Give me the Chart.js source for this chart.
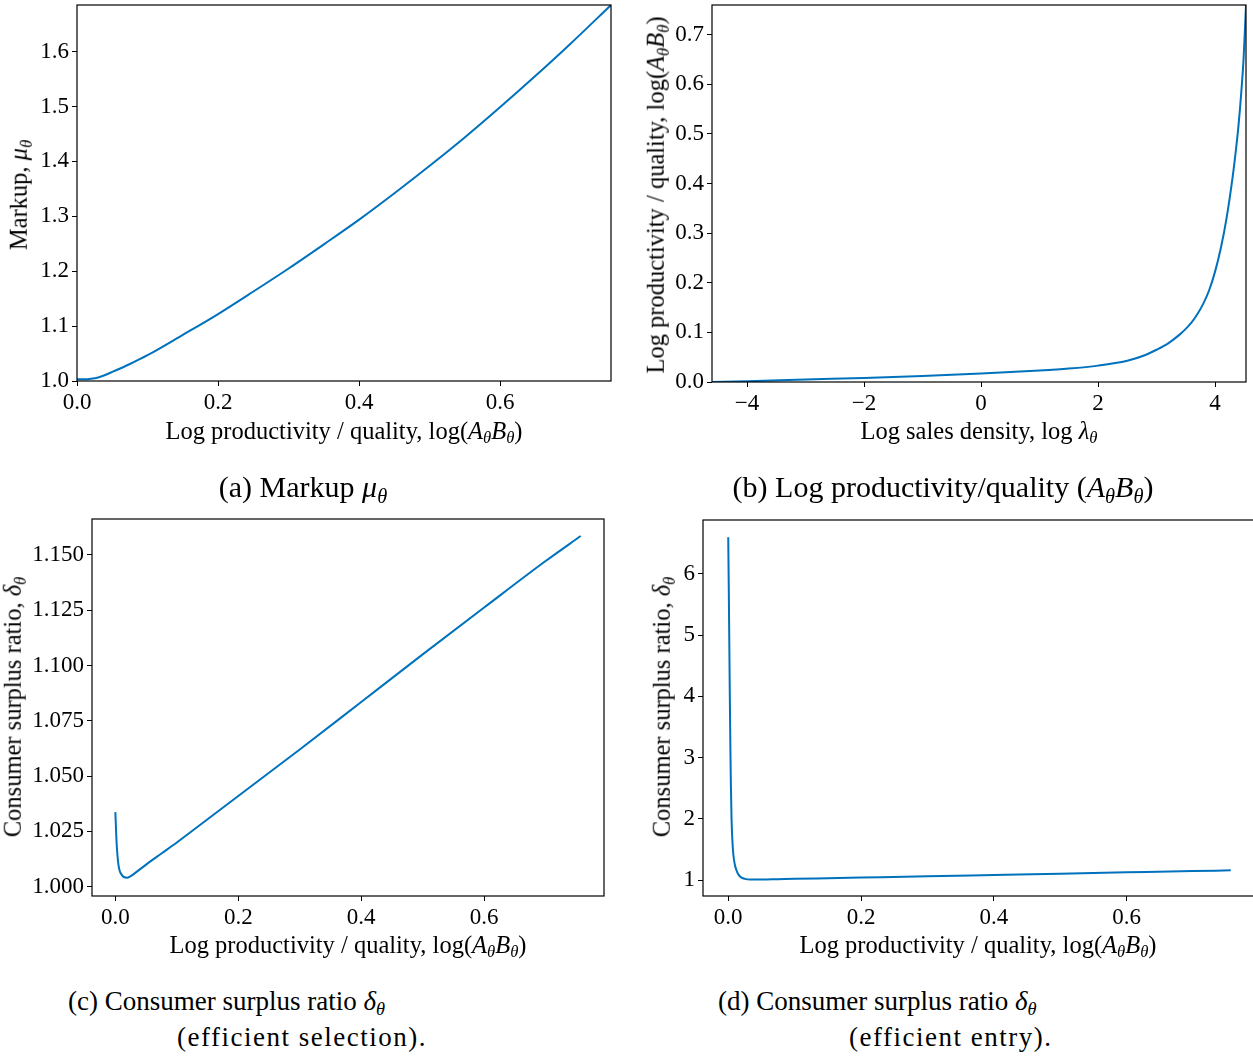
<!DOCTYPE html>
<html lang="en">
<head>
<meta charset="UTF-8">
<title>Markup and consumer surplus ratio</title>
<script src="https://cdn.jsdelivr.net/npm/chart.js"></script>
<style>
  body {
    margin: 0;
    width: 1253px;
    height: 1057px;
    position: relative;
    overflow: hidden;
    background: #fff;
    font-family: 'Liberation Serif', serif;
    color: #000;
  }
  canvas { position: absolute; }
  .t { position: absolute; white-space: nowrap; font-size: 24.5px; line-height: 1; }
  .rot { transform: translate(-50%, -50%) rotate(-90deg); }
  .hor { transform: translate(-50%, -50%); }
  .cap { position: absolute; white-space: nowrap; font-size: 27px; line-height: 1; transform: translateY(-50%); }
  .capc { position: absolute; white-space: nowrap; font-size: 30px; line-height: 1; transform: translate(-50%, -50%); }
  sub { font-size: 0.68em; vertical-align: -0.28em; line-height: 0; }
</style>
</head>
<body>
<canvas id="chartA" width="620" height="420" style="left:0;top:0"></canvas>
<canvas id="chartB" width="623" height="420" style="left:630px;top:0"></canvas>
<canvas id="chartC" width="620" height="935" style="left:0;top:0"></canvas>
<canvas id="chartD" width="630" height="935" style="left:630px;top:0"></canvas>

<!-- axis titles -->
<div class="t hor" style="left:344px;top:431px">Log productivity / quality, log(<i>A</i><sub><i>θ</i></sub><i>B</i><sub><i>θ</i></sub>)</div>
<div class="t rot" style="left:19px;top:195px">Markup, <i>μ</i><sub><i>θ</i></sub></div>
<div class="t hor" style="left:979px;top:431px">Log sales density, log <i>λ</i><sub><i>θ</i></sub></div>
<div class="t rot" style="left:656px;top:195px">Log productivity / quality, log(<i>A</i><sub><i>θ</i></sub><i>B</i><sub><i>θ</i></sub>)</div>
<div class="t hor" style="left:348px;top:945px">Log productivity / quality, log(<i>A</i><sub><i>θ</i></sub><i>B</i><sub><i>θ</i></sub>)</div>
<div class="t rot" style="left:13px;top:707px">Consumer surplus ratio, <i>δ</i><sub><i>θ</i></sub></div>
<div class="t hor" style="left:978px;top:945px">Log productivity / quality, log(<i>A</i><sub><i>θ</i></sub><i>B</i><sub><i>θ</i></sub>)</div>
<div class="t rot" style="left:662px;top:707px">Consumer surplus ratio, <i>δ</i><sub><i>θ</i></sub></div>

<!-- captions -->
<div class="capc" style="left:303px;top:487px">(a) Markup <i>μ</i><sub><i>θ</i></sub></div>
<div class="capc" style="left:943px;top:487px">(b) Log productivity/quality (<i>A</i><sub><i>θ</i></sub><i>B</i><sub><i>θ</i></sub>)</div>
<div class="cap" style="left:68px;top:1001px">(c) Consumer surplus ratio <i>δ</i><sub><i>θ</i></sub></div>
<div class="cap" style="left:177px;top:1037px;letter-spacing:1.5px">(efficient selection).</div>
<div class="cap" style="left:718px;top:1001px">(d) Consumer surplus ratio <i>δ</i><sub><i>θ</i></sub></div>
<div class="cap" style="left:849px;top:1037px;letter-spacing:1.5px">(efficient entry).</div>

<script>
// (a) markup vs log productivity/quality
const aX = [0, 0.01, 0.02, 0.03, 0.04, 0.05, 0.075, 0.1, 0.15, 0.2, 0.25, 0.3, 0.35, 0.4, 0.45, 0.5, 0.55, 0.6, 0.65, 0.7, 0.757];
const aY = [1.003, 1.003, 1.004, 1.0065, 1.011, 1.0165, 1.031, 1.047, 1.084, 1.122, 1.163, 1.205, 1.249, 1.294, 1.342, 1.392, 1.444, 1.499, 1.556, 1.615, 1.685];

// (b) log productivity/quality vs log sales density
const bX = [-4.6, -4, -3, -2, -1, 0, 1, 1.5, 2, 2.5, 2.8, 3.0, 3.2, 3.4, 3.5, 3.6, 3.7, 3.8, 3.9, 4.0, 4.1, 4.2, 4.3, 4.35, 4.4, 4.45, 4.49, 4.53];
const bY = [0, 0.0015, 0.005, 0.008, 0.012, 0.017, 0.023, 0.027, 0.033, 0.043, 0.054, 0.065, 0.078, 0.096, 0.107, 0.12, 0.137, 0.158, 0.185, 0.222, 0.27, 0.332, 0.412, 0.46, 0.515, 0.585, 0.655, 0.76];

// (c) consumer surplus ratio, efficient selection
const cX = [0, 0.002, 0.005, 0.01, 0.0187, 0.025, 0.035, 0.05, 0.075, 0.1, 0.15, 0.2, 0.3, 0.4, 0.5, 0.6, 0.7, 0.757];
const cY = [1.0337, 1.020, 1.010, 1.0055, 1.004, 1.0048, 1.0068, 1.010, 1.015, 1.020, 1.0305, 1.041, 1.062, 1.0835, 1.105, 1.1262, 1.1472, 1.1585];

// (d) consumer surplus ratio, efficient entry
const dX = [0, 0.0008, 0.0016, 0.0024, 0.0032, 0.004, 0.005, 0.006, 0.0076, 0.01, 0.0127, 0.016, 0.02, 0.025, 0.033, 0.05, 0.075, 0.1, 0.15, 0.2, 0.3, 0.4, 0.5, 0.6, 0.7, 0.757];
const dY = [6.6, 5.8, 4.9, 4.0, 3.2, 2.55, 2.0, 1.7, 1.43, 1.25, 1.15, 1.08, 1.04, 1.02, 1.01, 1.010, 1.015, 1.020, 1.0305, 1.041, 1.062, 1.0835, 1.105, 1.1262, 1.1472, 1.1585];

// tick values and labels
const aXTicks = [0, 0.2, 0.4, 0.6];
const aXLabels = ['0.0', '0.2', '0.4', '0.6'];
const aYTicks = [1.0, 1.1, 1.2, 1.3, 1.4, 1.5, 1.6];
const aYLabels = ['1.0', '1.1', '1.2', '1.3', '1.4', '1.5', '1.6'];
const bXTicks = [-4, -2, 0, 2, 4];
const bXLabels = ['\u22124', '\u22122', '0', '2', '4'];
const bYTicks = [0, 0.1, 0.2, 0.3, 0.4, 0.5, 0.6, 0.7];
const bYLabels = ['0.0', '0.1', '0.2', '0.3', '0.4', '0.5', '0.6', '0.7'];
const cXTicks = [0, 0.2, 0.4, 0.6];
const cXLabels = ['0.0', '0.2', '0.4', '0.6'];
const cYTicks = [1.0, 1.025, 1.05, 1.075, 1.1, 1.125, 1.15];
const cYLabels = ['1.000', '1.025', '1.050', '1.075', '1.100', '1.125', '1.150'];
const dXTicks = [0, 0.2, 0.4, 0.6];
const dXLabels = ['0.0', '0.2', '0.4', '0.6'];
const dYTicks = [1, 2, 3, 4, 5, 6];
const dYLabels = ['1', '2', '3', '4', '5', '6'];

const lineColor = 'rgb(0, 114, 189)';
const tickFont = { family: 'Liberation Serif', size: 23 };

// draws the box round the plot area, like matplotlib spines
const frame = {
  id: 'frame',
  afterDraw(chart) {
    const a = chart.chartArea;
    const ctx = chart.ctx;
    ctx.save();
    ctx.strokeStyle = '#000';
    ctx.lineWidth = 1.2;
    ctx.strokeRect(a.left, a.top, a.right - a.left, a.bottom - a.top);
    ctx.restore();
  }
};

function axis(min, max, ticks, labels, size, isY) {
  return {
    type: 'linear',
    min: min,
    max: max,
    border: { display: false },
    grid: { display: true, drawOnChartArea: false, drawTicks: true, tickLength: 5, color: '#000', tickColor: '#000' },
    ticks: {
      color: '#000',
      font: tickFont,
      padding: 3,
      maxRotation: 0,
      autoSkip: false,
      callback: (v, i) => labels[i]
    },
    afterBuildTicks: (s) => { s.ticks = ticks.map(v => ({ value: v })); },
    afterFit: (s) => {
      if (isY) s.width = size; else s.height = size;
      // keep the plot area exactly where the layout padding puts it
      s.paddingTop = 0; s.paddingBottom = 0; s.paddingLeft = 0; s.paddingRight = 0;
    }
  };
}

// box: top and right of the plot area in canvas coords
function makeChart(id, xs, ys, xAxis, yAxis, box, w, h) {
  const ctx = document.getElementById(id).getContext('2d');
  return new Chart(ctx, {
    type: 'line',
    data: {
      datasets: [{
        data: xs.map((x, i) => ({ x: x, y: ys[i] })),
        borderColor: lineColor,
        borderWidth: 2,
        pointRadius: 0,
        fill: false,
        cubicInterpolationMode: 'monotone'
      }]
    },
    options: {
      responsive: false,
      animation: false,
      events: [],
      layout: { padding: { left: 0, top: box.t, right: w - box.r, bottom: 0 } },
      plugins: { legend: { display: false }, tooltip: { enabled: false } },
      scales: { x: xAxis, y: yAxis }
    },
    plugins: [frame]
  });
}

makeChart('chartA', aX, aY,
  axis(0, 0.757, aXTicks, aXLabels, 420 - 381, false),
  axis(1.0, 1.685, aYTicks, aYLabels, 77, true),
  { t: 5, r: 611 }, 620, 420);

makeChart('chartB', bX, bY,
  axis(-4.6, 4.53, bXTicks, bXLabels, 420 - 382, false),
  axis(0, 0.76, bYTicks, bYLabels, 712 - 630, true),
  { t: 5, r: 1246 - 630 }, 623, 420);

// bottom row canvases start at top 0, plot area shifted down via padding
makeChart('chartC', cX, cY,
  axis(-0.038, 0.795, cXTicks, cXLabels, 935 - 896, false),
  axis(0.9958, 1.1662, cYTicks, cYLabels, 92, true),
  { t: 519, r: 604 }, 620, 935);

makeChart('chartD', dX, dY,
  axis(-0.038, 0.795, dXTicks, dXLabels, 935 - 896, false),
  axis(0.74, 6.88, dYTicks, dYLabels, 703 - 630, true),
  { t: 520, r: 1256 - 630 }, 630, 935);
</script>
</body>
</html>
